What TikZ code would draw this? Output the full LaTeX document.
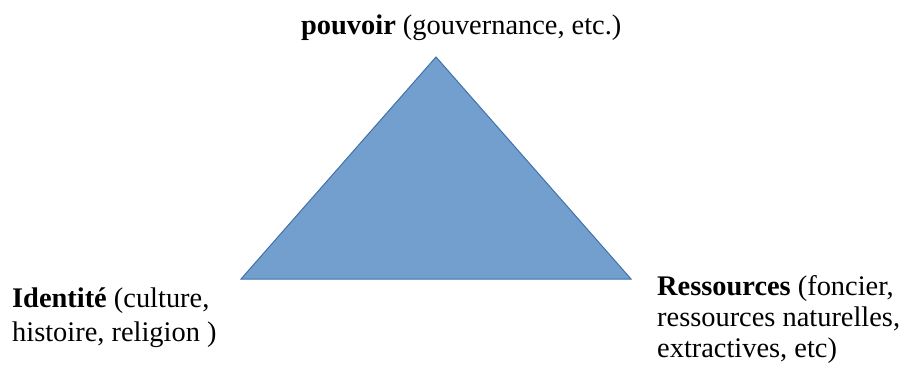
\documentclass[tikz,border=0pt]{standalone}
\usepackage{fontspec}
\setmainfont{Liberation Serif}
\definecolor{triFill}{RGB}{115,159,207}
\definecolor{triLine}{RGB}{65,113,170}
\begin{document}
\begin{tikzpicture}[x=1pt,y=1pt,font=\fontsize{28.4}{34}\selectfont,
	lbl/.style={inner sep=0pt,align=left,anchor=base west}]
		\useasboundingbox (0,0) rectangle (909,365);
		\coordinate (top) at (436,308);
		\coordinate (left) at (241,86);
		\coordinate (right) at (631,86);
		\draw[triLine,fill=triFill,line width=1pt] (top) -- (left) -- (right) -- cycle;
		\node[lbl] (pouvoir) at (301,330) {\textbf{pouvoir} (gouvernance, etc.)};
		\node[lbl] (identite) at (12,58) {\textbf{Identité} (culture,};
		\node[lbl] (identite2) at (12,24) {histoire, religion )};
		\node[lbl] (ressources) at (657,70) {\textbf{Ressources} (foncier,};
		\node[lbl] (ressources2) at (657,39) {ressources naturelles,};
		\node[lbl] (ressources3) at (657,8) {extractives, etc)};
\end{tikzpicture}
\end{document}
